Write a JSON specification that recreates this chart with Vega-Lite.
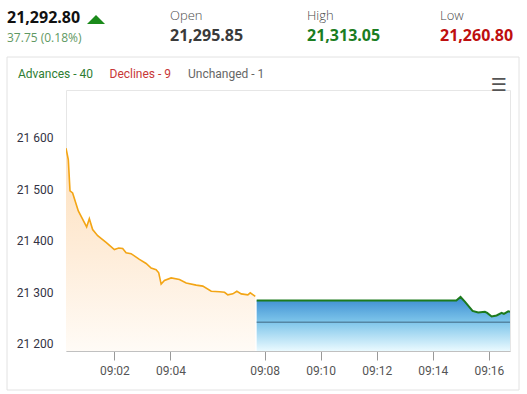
{
  "$schema": "https://vega.github.io/schema/vega-lite/v6.json",
  "width": 444,
  "height": 261,
  "autosize": {"type": "none"},
  "padding": {"left": 66, "top": 90, "right": 17, "bottom": 43},
  "background": "white",
  "config": {"view": {"stroke": "#e6e6e6"}, "font": "Roboto"},
  "datasets": {
    "pre": [
      {"t": 0.275, "v": 21580}, {"t": 0.357, "v": 21558}, {"t": 0.418, "v": 21497}, {"t": 0.511, "v": 21493},
      {"t": 0.714, "v": 21458}, {"t": 1.011, "v": 21427}, {"t": 1.107, "v": 21443}, {"t": 1.225, "v": 21422},
      {"t": 1.404, "v": 21410}, {"t": 1.704, "v": 21397}, {"t": 2.0, "v": 21383}, {"t": 2.154, "v": 21386},
      {"t": 2.296, "v": 21385}, {"t": 2.418, "v": 21377}, {"t": 2.596, "v": 21375}, {"t": 2.893, "v": 21364},
      {"t": 3.132, "v": 21356}, {"t": 3.311, "v": 21347}, {"t": 3.489, "v": 21344}, {"t": 3.582, "v": 21338},
      {"t": 3.668, "v": 21316}, {"t": 3.786, "v": 21323}, {"t": 4.025, "v": 21328}, {"t": 4.321, "v": 21325},
      {"t": 4.561, "v": 21318}, {"t": 4.918, "v": 21314}, {"t": 5.154, "v": 21312}, {"t": 5.454, "v": 21302},
      {"t": 5.75, "v": 21301}, {"t": 5.929, "v": 21300}, {"t": 6.046, "v": 21295}, {"t": 6.225, "v": 21297},
      {"t": 6.368, "v": 21302}, {"t": 6.525, "v": 21297}, {"t": 6.761, "v": 21295}, {"t": 6.846, "v": 21299},
      {"t": 7.025, "v": 21292}
    ],
    "open": [
      {"t": 7.075, "v": 21284}, {"t": 14.196, "v": 21284}, {"t": 14.346, "v": 21291}, {"t": 14.5, "v": 21282},
      {"t": 14.775, "v": 21264}, {"t": 14.975, "v": 21261}, {"t": 15.214, "v": 21262}, {"t": 15.296, "v": 21260},
      {"t": 15.454, "v": 21253}, {"t": 15.632, "v": 21255}, {"t": 15.811, "v": 21260}, {"t": 15.893, "v": 21258},
      {"t": 16.046, "v": 21263}, {"t": 16.11, "v": 21262}
    ],
    "ref": [{"t0": 7.075, "t1": 16.11, "v": 21242}],
    "hdr": [
      {"role": "big", "text": "21,292.80", "col": 0, "line": 1, "tone": "price"},
      {"role": "big", "text": "21,295.85", "col": 1, "line": 2, "tone": "open"},
      {"role": "big", "text": "21,313.05", "col": 2, "line": 2, "tone": "high"},
      {"role": "big", "text": "21,260.80", "col": 3, "line": 2, "tone": "low"},
      {"role": "label", "text": "Open", "col": 1, "line": 0, "tone": "label"},
      {"role": "label", "text": "High", "col": 2, "line": 0, "tone": "label"},
      {"role": "label", "text": "Low", "col": 3, "line": 0, "tone": "label"},
      {"role": "change", "text": "37.75 (0.18%)", "col": 0, "line": 3, "tone": "change"},
      {"role": "sub", "text": "Advances - 40", "col": 4, "line": 4, "tone": "adv"},
      {"role": "sub", "text": "Declines - 9", "col": 5, "line": 4, "tone": "dec"},
      {"role": "sub", "text": "Unchanged - 1", "col": 6, "line": 4, "tone": "unch"},
      {"role": "arrow", "text": "", "col": 7, "line": 5, "tone": "arrow"},
      {"role": "menu", "text": "☰", "col": 8, "line": 6, "tone": "menu"},
      {"role": "panel", "text": "", "col": 9, "col2": 10, "line": 7, "line2": 8, "tone": "menu"}
    ]
  },
  "layer": [
    {
      "data": {"name": "hdr"},
      "encoding": {
        "x": {"field": "col", "type": "quantitative", "axis": null,
          "scale": {"domain": [0, 1, 2, 3, 4, 5, 6, 7, 8, 9, 10], "range": [-59, 104, 241, 374, -48, 43.5, 122, 30, 432.5, -59, 453], "zero": false, "nice": false}},
        "y": {"field": "line", "type": "quantitative", "axis": null,
          "scale": {"domain": [0, 1, 2, 3, 4, 5, 6, 7, 8], "range": [-70.3, -67, -49.5, -48.2, -12.3, -70.5, -4.5, -33, 300], "zero": false, "nice": false}}
      },
      "layer": [
        {
          "transform": [{"filter": "datum.role == 'panel'"}],
          "mark": {"type": "rect", "fill": null, "stroke": "#e2e2e2", "strokeWidth": 1},
          "encoding": {"x2": {"field": "col2"}, "y2": {"field": "line2"}}
        },
        {
          "transform": [{"filter": "datum.role == 'big'"}],
          "mark": {"type": "text", "align": "left", "baseline": "alphabetic", "font": "Open Sans", "fontSize": 16, "fontWeight": "bold"},
          "encoding": {"text": {"field": "text"},
            "color": {"field": "tone", "type": "nominal", "legend": null,
              "scale": {"domain": ["price", "open", "high", "low", "label", "change", "adv", "dec", "unch", "arrow", "menu"],
                "range": ["#111111", "#3a3a3a", "#1b7d22", "#be0f0f", "#4a4a4a", "#5f9963", "#2e7d32", "#c83737", "#666666", "#1a8a1a", "#555555"]}}}
        },
        {
          "transform": [{"filter": "datum.role == 'label'"}],
          "mark": {"type": "text", "align": "left", "baseline": "alphabetic", "font": "Open Sans", "fontSize": 13, "fontWeight": 300},
          "encoding": {"text": {"field": "text"}, "color": {"field": "tone", "type": "nominal", "legend": null}}
        },
        {
          "transform": [{"filter": "datum.role == 'change'"}],
          "mark": {"type": "text", "align": "left", "baseline": "alphabetic", "font": "Open Sans", "fontSize": 12, "fontWeight": "normal"},
          "encoding": {"text": {"field": "text"}, "color": {"field": "tone", "type": "nominal", "legend": null}}
        },
        {
          "transform": [{"filter": "datum.role == 'sub'"}],
          "mark": {"type": "text", "align": "left", "baseline": "alphabetic", "font": "Roboto", "fontSize": 12},
          "encoding": {"text": {"field": "text"}, "color": {"field": "tone", "type": "nominal", "legend": null}}
        },
        {
          "transform": [{"filter": "datum.role == 'arrow'"}],
          "mark": {"type": "point", "filled": true, "opacity": 1, "shape": "M-1,0.5L1,0.5L0,-0.5Z", "size": 324},
          "encoding": {"color": {"field": "tone", "type": "nominal", "legend": null}}
        },
        {
          "transform": [{"filter": "datum.role == 'menu'"}],
          "mark": {"type": "text", "align": "center", "baseline": "middle", "font": "DejaVu Sans", "fontSize": 18, "fontWeight": "bold"},
          "encoding": {"text": {"field": "text"}, "color": {"field": "tone", "type": "nominal", "legend": null}}
        }
      ]
    },
    {
      "encoding": {
        "x": {"field": "t", "type": "quantitative",
          "scale": {"domain": [0.275, 16.11], "zero": false, "nice": false},
          "axis": {"values": [2, 4, 7.357, 9.357, 11.357, 13.357, 15.357],
            "labelExpr": "'09:' + format(round(datum.value < 7 ? datum.value : datum.value + 0.643), '02d')",
            "title": null, "grid": false, "tickSize": 9, "tickColor": "#999999", "domainColor": "#c0c0c0",
            "labelColor": "#555555", "labelFont": "Roboto", "labelFontSize": 12, "labelPadding": 5,
            "labelFlush": false, "labelOverlap": false}},
        "y": {"field": "v", "type": "quantitative",
          "scale": {"domain": [21186, 21693], "zero": false, "nice": false},
          "axis": {"values": [21200, 21300, 21400, 21500, 21600],
            "labelExpr": "replace(format(datum.value, ','), ',', ' ')",
            "title": null, "grid": false, "ticks": false, "domain": false, "labelPadding": 13,
            "labelColor": "#333344", "labelFont": "Roboto", "labelFontSize": 12}}
      },
      "layer": [
        {
          "data": {"name": "pre"},
          "mark": {"type": "area", "clip": true,
            "color": {"gradient": "linear", "x1": 0, "y1": 0, "x2": 0, "y2": 1,
              "stops": [{"offset": 0, "color": "#fde0bd"}, {"offset": 0.5, "color": "#feecd8"}, {"offset": 1, "color": "#fffbf6"}]}},
          "encoding": {"y2": {"datum": 21186}}
        },
        {
          "data": {"name": "pre"},
          "mark": {"type": "line", "clip": true, "color": "#f3a515", "strokeWidth": 1.6}
        },
        {
          "data": {"name": "open"},
          "mark": {"type": "area", "clip": true,
            "color": {"gradient": "linear", "x1": 0, "y1": 0, "x2": 0, "y2": 1,
              "stops": [{"offset": 0, "color": "#3a8bd0"}, {"offset": 0.45, "color": "#7cc4ea"}, {"offset": 1, "color": "#eafaff"}]}},
          "encoding": {"y2": {"datum": 21186}}
        },
        {
          "data": {"name": "ref"},
          "mark": {"type": "rule", "clip": true, "color": "#3f6580", "strokeWidth": 1},
          "encoding": {"x": {"field": "t0", "type": "quantitative"}, "x2": {"field": "t1"}, "y": {"field": "v", "type": "quantitative"}}
        },
        {
          "data": {"name": "open"},
          "mark": {"type": "line", "clip": true, "color": "#1d7a1d", "strokeWidth": 2}
        }
      ]
    }
  ],
  "resolve": {"scale": {"x": "independent", "y": "independent"}}
}
